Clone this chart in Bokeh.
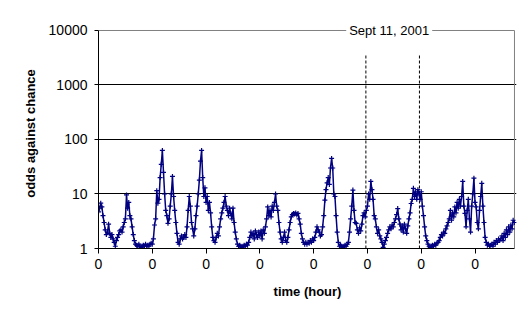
from bokeh.plotting import figure
from bokeh.models import Range1d, FixedTicker, Label
from bokeh.embed import file_html
from bokeh.resources import INLINE

# odds against chance, one value every half hour, listed day by day
day0 = [4.7, 5.5, 6.8, 5.8, 4.0, 3.0, 2.2, 1.8, 2.0, 2.8, 1.9, 1.6, 1.8, 1.5, 1.3, 1.1,
        1.4, 1.6, 1.8, 2.1, 2.2, 2.0, 2.5, 3.0, 3.5, 9.6, 5.5, 7.0, 4.0, 3.5, 2.5, 1.8,
        1.4, 1.2, 1.15, 1.1, 1.2, 1.1, 1.05, 1.1, 1.15, 1.1, 1.2, 1.1, 1.15, 1.1, 1.2, 1.25]
day1 = [1.2, 1.5, 2.7, 3.5, 11.5, 6.8, 8, 20, 35, 63, 25, 10, 5, 4, 2.9, 3.5,
        6, 10, 21, 9, 5, 3, 1.9, 1.3, 1.2, 1.5, 1.7, 1.5, 1.6, 1.8, 1.6, 2.5,
        5, 9, 6, 3, 2.3, 1.7, 2.3, 4, 6, 10, 18, 40, 63, 20, 9, 13]
day2 = [7, 9, 5, 7, 4.5, 2.5, 1.6, 1.4, 1.3, 1.6, 1.9, 1.7, 2.5, 3.5, 4.5, 5.5,
        7, 9, 6, 5, 4, 5.5, 4.4, 3.5, 5.5, 3, 2, 1.5, 1.2, 1.1, 1.15, 1.1,
        1.05, 1.1, 1.15, 1.1, 1.2, 1.15, 1.3, 1.6, 2, 1.7, 1.9, 1.5, 2.1, 1.8, 1.6, 2.0]
day3 = [1.7, 2.1, 1.5, 2.2, 1.9, 2.5, 3.5, 5.8, 4, 5, 3.8, 6, 5, 7, 10, 6,
        5, 3, 2, 1.5, 1.3, 1.6, 2, 1.4, 1.3, 1.6, 2.2, 3, 3.8, 4.2, 4.4, 4.3,
        4.5, 4.1, 4.4, 3.5, 2.8, 1.9, 1.5, 1.3, 1.2, 1.3, 1.2, 1.3, 1.25, 1.4, 1.3, 1.5]
day4 = [1.4, 1.6, 2, 2.5, 2.2, 2.0, 1.7, 1.8, 2.5, 4, 7.7, 12, 16, 20, 15, 30,
        45, 30, 10, 9, 4, 2, 1.3, 1.1, 1.15, 1.1, 1.05, 1.1, 1.15, 1.1, 1.2, 1.3,
        2, 3.5, 6, 11.8, 5, 3, 2.9, 2.2, 1.9, 2.4, 2.1, 2.8, 4, 4.5, 3.8, 5]
day5 = [6, 10, 8, 17, 12, 8, 4, 3.5, 2.5, 1.9, 2.2, 1.7, 1.5, 1.3, 1.05, 1.2,
        1.4, 1.6, 1.9, 2.2, 2.5, 2.3, 2.7, 2.5, 3, 3.5, 4.2, 5.4, 3.5, 2.8, 2.2, 2.6,
        2.0, 2.8, 2.3, 1.9, 2.6, 3.5, 4.5, 6.7, 8, 12.7, 9, 11, 8, 12, 10, 8]
day6 = [11, 6, 4, 2.5, 1.7, 1.4, 1.2, 1.1, 1.05, 1.1, 1.15, 1.1, 1.2, 1.15, 1.25, 1.3,
        1.4, 1.6, 1.8, 1.7, 2.0, 1.9, 2.3, 2.6, 3.0, 3.5, 5, 3.3, 4.5, 3.8, 5.8, 4.5,
        7, 5.5, 8, 6, 9, 17, 6, 4.4, 2.5, 5, 8, 3.5, 2.0, 6, 10, 19.5]
day7 = [7, 5.8, 3, 2.3, 5, 9, 15.7, 6, 3, 1.6, 1.3, 1.15, 1.2, 1.1, 1.15, 1.2,
        1.1, 1.3, 1.2, 1.4, 1.3, 1.5, 1.4, 1.5, 1.7, 1.4, 1.9, 1.6, 2.2, 1.8, 2.5, 2.0,
        2.7, 2.3, 3.3, 3.0]

odds = day0 + day1 + day2 + day3 + day4 + day5 + day6 + day7
step_hours = 0.5
hours = [i * step_hours for i in range(len(odds))]
x_end = 185.6

tick_hours = [0, 24, 48, 72, 96, 120, 144, 168]
tick_labels = ["0", "0", "0", "0", "0", "0", "0", "0"]
y_ticks = [1, 10, 100, 1000, 10000]
y_labels = ["1", "10", "100", "1000", "10000"]
grid_values = [10, 100, 1000]
y_min, y_max = 1, 10000

event_hours = [119.3, 143.2]
event_line_bottom = [1, 1]
event_line_top = [6000, 6000]
event_text = "Sept 11, 2001"
event_label_hour = 129.7

NAVY = "#000080"
GREY = "#808080"
FONT = "Liberation Sans"

# frame reaches a little above 10000 and right of the last hour so the
# label on the top border is not clipped
p = figure(width=523, height=316, output_backend="svg", toolbar_location=None,
           x_range=Range1d(0, 186.5), y_range=Range1d(1, 16600), y_axis_type="log",
           min_border_left=98, min_border_right=7, min_border_top=18, min_border_bottom=68)
p.outline_line_color = None
p.background_fill_color = "white"
p.border_fill_color = "white"

# axes
p.xaxis.ticker = FixedTicker(ticks=tick_hours)
p.xaxis.major_label_overrides = {t: l for t, l in zip(tick_hours, tick_labels)}
p.xaxis.bounds = (0, x_end)
p.yaxis.ticker = FixedTicker(ticks=y_ticks)
p.yaxis.major_label_overrides = {t: l for t, l in zip(y_ticks, y_labels)}
p.yaxis.bounds = (y_min, y_max)
for ax in (p.xaxis, p.yaxis):
    ax.axis_line_color = "black"
    ax.major_tick_line_color = "black"
    ax.minor_tick_line_color = None
    ax.major_tick_in = 0
    ax.major_label_text_font = FONT
    ax.major_label_text_font_size = "14px"
    ax.major_label_text_color = "black"
    ax.axis_label_text_font = FONT
    ax.axis_label_text_font_size = "13px"
    ax.axis_label_text_font_style = "bold"
    ax.axis_label_text_color = "black"
p.xaxis.major_tick_out = 5
p.xaxis.major_label_standoff = 5
p.xaxis.axis_label = "time (hour)"
p.xaxis.axis_label_standoff = 12
p.yaxis.major_tick_out = 4
p.yaxis.major_label_standoff = 7
p.yaxis.axis_label = "odds against chance"
p.yaxis.axis_label_standoff = 8

p.xgrid.visible = False
p.ygrid.ticker = FixedTicker(ticks=grid_values)
p.ygrid.grid_line_color = "black"
p.ygrid.grid_line_width = 1

# grey top and right borders of the plot area
p.segment(x0=[0, x_end], y0=[y_max, y_min], x1=[x_end, x_end], y1=[y_max, y_max],
          line_color=GREY, line_width=1)

# event markers (dashed)
p.segment(x0=event_hours, y0=event_line_bottom, x1=event_hours, y1=event_line_top,
          line_color="black", line_width=1, line_dash="3 2")

# data
p.line(hours, odds, line_color=NAVY, line_width=1.5)
p.scatter(hours, odds, marker="cross", size=5, line_color=NAVY, line_width=1.2)

p.add_layout(Label(x=event_label_hour, y=y_max, text=event_text, text_align="center",
                   text_baseline="middle", text_font=FONT, text_font_size="13px",
                   text_color="black", background_fill_color="white",
                   padding=(3, 17), level="overlay"))

open("out.html", "w").write(file_html(p, INLINE))
